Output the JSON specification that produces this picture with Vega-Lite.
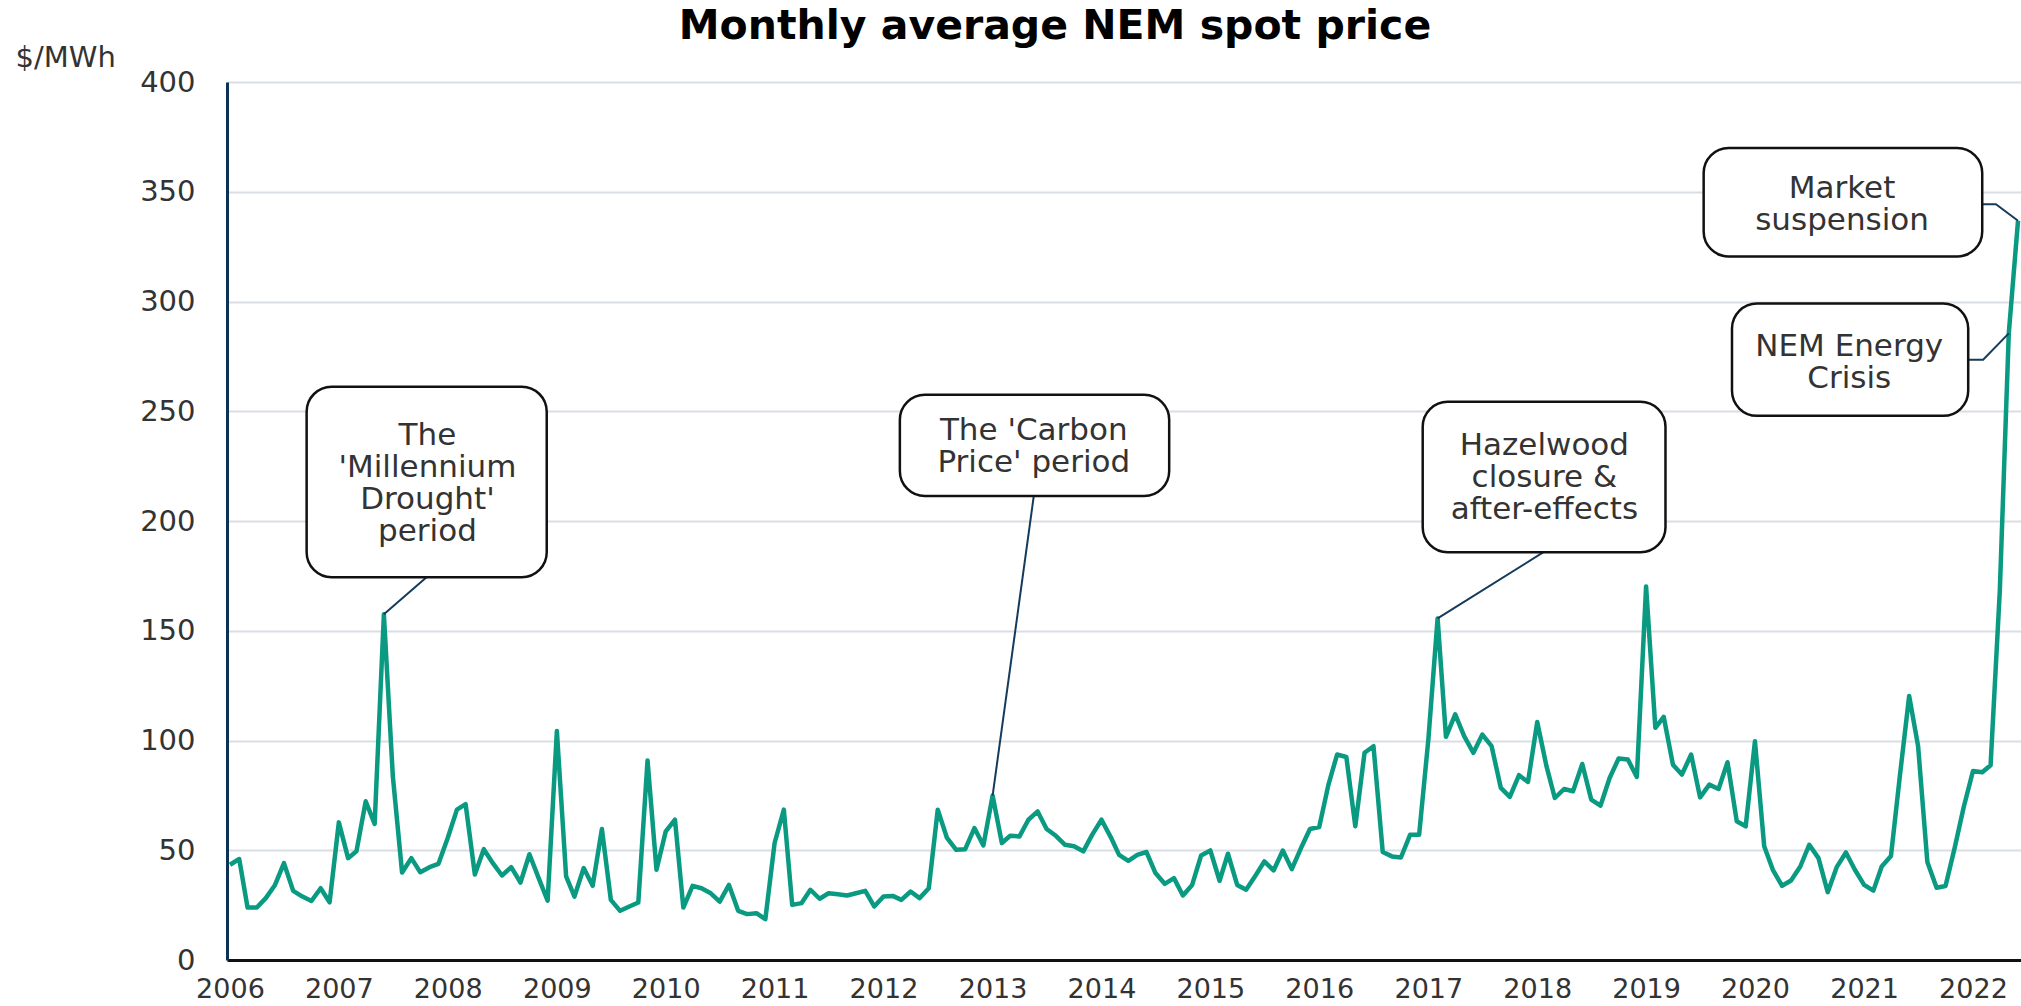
{
  "$schema": "https://vega.github.io/schema/vega-lite/v6.json",
  "autosize": {"type": "none"},
  "width": 1794,
  "height": 878,
  "padding": {"left": 227, "top": 82, "right": 0, "bottom": 46},
  "background": "white",
  "title": {
    "text": "Monthly average NEM spot price",
    "font": "DejaVu Sans",
    "fontSize": 41,
    "fontWeight": "bold",
    "color": "#000000",
    "anchor": "middle",
    "frame": "group",
    "dx": -69,
    "dy": 37,
    "baseline": "alphabetic",
    "offset": 0
  },
  "config": {
    "view": {"stroke": null},
    "axis": {
      "labelFont": "DejaVu Sans",
      "labelFontSize": 29,
      "labelColor": "#333333",
      "titleFont": "DejaVu Sans",
      "titleFontSize": 29,
      "titleFontWeight": "normal",
      "titleColor": "#333333"
    }
  },
  "datasets": {
    "prices": [
      {"month": "2006-01-01", "price": 43.4}, {"month": "2006-02-01", "price": 46}, {"month": "2006-03-01", "price": 23.9}, {"month": "2006-04-01", "price": 23.9}, {"month": "2006-05-01", "price": 28.2}, {"month": "2006-06-01", "price": 34.2}, {"month": "2006-07-01", "price": 44.1}, {"month": "2006-08-01", "price": 31.5}, {"month": "2006-09-01", "price": 28.9}, {"month": "2006-10-01", "price": 26.9}, {"month": "2006-11-01", "price": 32.7}, {"month": "2006-12-01", "price": 26.3},
      {"month": "2007-01-01", "price": 62.7}, {"month": "2007-02-01", "price": 46.4}, {"month": "2007-03-01", "price": 49.5}, {"month": "2007-04-01", "price": 72.3}, {"month": "2007-05-01", "price": 62}, {"month": "2007-06-01", "price": 157.5}, {"month": "2007-07-01", "price": 83.7}, {"month": "2007-08-01", "price": 39.9}, {"month": "2007-09-01", "price": 46.4}, {"month": "2007-10-01", "price": 40}, {"month": "2007-11-01", "price": 42.3}, {"month": "2007-12-01", "price": 43.8},
      {"month": "2008-01-01", "price": 55.6}, {"month": "2008-02-01", "price": 68.5}, {"month": "2008-03-01", "price": 71}, {"month": "2008-04-01", "price": 39}, {"month": "2008-05-01", "price": 50.5}, {"month": "2008-06-01", "price": 44}, {"month": "2008-07-01", "price": 38.5}, {"month": "2008-08-01", "price": 42.3}, {"month": "2008-09-01", "price": 35.3}, {"month": "2008-10-01", "price": 48.2}, {"month": "2008-11-01", "price": 37.3}, {"month": "2008-12-01", "price": 27},
      {"month": "2009-01-01", "price": 104.3}, {"month": "2009-02-01", "price": 38.1}, {"month": "2009-03-01", "price": 28.9}, {"month": "2009-04-01", "price": 41.9}, {"month": "2009-05-01", "price": 33.8}, {"month": "2009-06-01", "price": 59.7}, {"month": "2009-07-01", "price": 27.4}, {"month": "2009-08-01", "price": 22.4}, {"month": "2009-09-01", "price": 24.4}, {"month": "2009-10-01", "price": 26.2}, {"month": "2009-11-01", "price": 90.9}, {"month": "2009-12-01", "price": 41.1},
      {"month": "2010-01-01", "price": 58.6}, {"month": "2010-02-01", "price": 63.9}, {"month": "2010-03-01", "price": 23.9}, {"month": "2010-04-01", "price": 33.8}, {"month": "2010-05-01", "price": 32.7}, {"month": "2010-06-01", "price": 30.4}, {"month": "2010-07-01", "price": 26.6}, {"month": "2010-08-01", "price": 34.2}, {"month": "2010-09-01", "price": 22.4}, {"month": "2010-10-01", "price": 20.9}, {"month": "2010-11-01", "price": 21.3}, {"month": "2010-12-01", "price": 18.6},
      {"month": "2011-01-01", "price": 53.3}, {"month": "2011-02-01", "price": 68.5}, {"month": "2011-03-01", "price": 25.1}, {"month": "2011-04-01", "price": 25.9}, {"month": "2011-05-01", "price": 32}, {"month": "2011-06-01", "price": 27.9}, {"month": "2011-07-01", "price": 30.4}, {"month": "2011-08-01", "price": 30}, {"month": "2011-09-01", "price": 29.4}, {"month": "2011-10-01", "price": 30.4}, {"month": "2011-11-01", "price": 31.5}, {"month": "2011-12-01", "price": 24.4},
      {"month": "2012-01-01", "price": 28.9}, {"month": "2012-02-01", "price": 29.2}, {"month": "2012-03-01", "price": 27.4}, {"month": "2012-04-01", "price": 31.2}, {"month": "2012-05-01", "price": 28.2}, {"month": "2012-06-01", "price": 32.7}, {"month": "2012-07-01", "price": 68.5}, {"month": "2012-08-01", "price": 55.6}, {"month": "2012-09-01", "price": 50.2}, {"month": "2012-10-01", "price": 50.5}, {"month": "2012-11-01", "price": 60.1}, {"month": "2012-12-01", "price": 52.2},
      {"month": "2013-01-01", "price": 74.9}, {"month": "2013-02-01", "price": 53.3}, {"month": "2013-03-01", "price": 56.6}, {"month": "2013-04-01", "price": 56.3}, {"month": "2013-05-01", "price": 63.9}, {"month": "2013-06-01", "price": 67.7}, {"month": "2013-07-01", "price": 59.7}, {"month": "2013-08-01", "price": 56.6}, {"month": "2013-09-01", "price": 52.5}, {"month": "2013-10-01", "price": 51.8}, {"month": "2013-11-01", "price": 49.5}, {"month": "2013-12-01", "price": 57.1},
      {"month": "2014-01-01", "price": 63.9}, {"month": "2014-02-01", "price": 56}, {"month": "2014-03-01", "price": 47.9}, {"month": "2014-04-01", "price": 45.2}, {"month": "2014-05-01", "price": 47.9}, {"month": "2014-06-01", "price": 49.2}, {"month": "2014-07-01", "price": 39.6}, {"month": "2014-08-01", "price": 34.7}, {"month": "2014-09-01", "price": 37.3}, {"month": "2014-10-01", "price": 29.4}, {"month": "2014-11-01", "price": 34.2}, {"month": "2014-12-01", "price": 47.6},
      {"month": "2015-01-01", "price": 49.9}, {"month": "2015-02-01", "price": 36.1}, {"month": "2015-03-01", "price": 48.4}, {"month": "2015-04-01", "price": 34.2}, {"month": "2015-05-01", "price": 32}, {"month": "2015-06-01", "price": 38.4}, {"month": "2015-07-01", "price": 44.9}, {"month": "2015-08-01", "price": 40.8}, {"month": "2015-09-01", "price": 49.9}, {"month": "2015-10-01", "price": 41.4}, {"month": "2015-11-01", "price": 51}, {"month": "2015-12-01", "price": 59.7},
      {"month": "2016-01-01", "price": 60.6}, {"month": "2016-02-01", "price": 79.9}, {"month": "2016-03-01", "price": 93.6}, {"month": "2016-04-01", "price": 92.5}, {"month": "2016-05-01", "price": 60.9}, {"month": "2016-06-01", "price": 94.4}, {"month": "2016-07-01", "price": 97.4}, {"month": "2016-08-01", "price": 49.2}, {"month": "2016-09-01", "price": 47.2}, {"month": "2016-10-01", "price": 46.7}, {"month": "2016-11-01", "price": 57.1}, {"month": "2016-12-01", "price": 57.1},
      {"month": "2017-01-01", "price": 100.5}, {"month": "2017-02-01", "price": 155.6}, {"month": "2017-03-01", "price": 101.7}, {"month": "2017-04-01", "price": 111.9}, {"month": "2017-05-01", "price": 102}, {"month": "2017-06-01", "price": 94.4}, {"month": "2017-07-01", "price": 102.7}, {"month": "2017-08-01", "price": 97.4}, {"month": "2017-09-01", "price": 78.4}, {"month": "2017-10-01", "price": 74.3}, {"month": "2017-11-01", "price": 84.2}, {"month": "2017-12-01", "price": 81.1},
      {"month": "2018-01-01", "price": 108.4}, {"month": "2018-02-01", "price": 88.3}, {"month": "2018-03-01", "price": 73.8}, {"month": "2018-04-01", "price": 77.9}, {"month": "2018-05-01", "price": 76.9}, {"month": "2018-06-01", "price": 89.3}, {"month": "2018-07-01", "price": 73.1}, {"month": "2018-08-01", "price": 70.3}, {"month": "2018-09-01", "price": 83}, {"month": "2018-10-01", "price": 91.8}, {"month": "2018-11-01", "price": 91.3}, {"month": "2018-12-01", "price": 83.4},
      {"month": "2019-01-01", "price": 170.2}, {"month": "2019-02-01", "price": 105.8}, {"month": "2019-03-01", "price": 110.8}, {"month": "2019-04-01", "price": 89}, {"month": "2019-05-01", "price": 84.5}, {"month": "2019-06-01", "price": 93.6}, {"month": "2019-07-01", "price": 74.1}, {"month": "2019-08-01", "price": 79.9}, {"month": "2019-09-01", "price": 77.9}, {"month": "2019-10-01", "price": 90.1}, {"month": "2019-11-01", "price": 63.2}, {"month": "2019-12-01", "price": 60.9},
      {"month": "2020-01-01", "price": 99.7}, {"month": "2020-02-01", "price": 51.8}, {"month": "2020-03-01", "price": 41.1}, {"month": "2020-04-01", "price": 33.8}, {"month": "2020-05-01", "price": 36.2}, {"month": "2020-06-01", "price": 42.6}, {"month": "2020-07-01", "price": 52.5}, {"month": "2020-08-01", "price": 46.4}, {"month": "2020-09-01", "price": 30.9}, {"month": "2020-10-01", "price": 42.3}, {"month": "2020-11-01", "price": 49}, {"month": "2020-12-01", "price": 41.1},
      {"month": "2021-01-01", "price": 34.2}, {"month": "2021-02-01", "price": 31.6}, {"month": "2021-03-01", "price": 42.6}, {"month": "2021-04-01", "price": 47.4}, {"month": "2021-05-01", "price": 84}, {"month": "2021-06-01", "price": 120.3}, {"month": "2021-07-01", "price": 97.4}, {"month": "2021-08-01", "price": 44.7}, {"month": "2021-09-01", "price": 32.9}, {"month": "2021-10-01", "price": 33.7}, {"month": "2021-11-01", "price": 51.3}, {"month": "2021-12-01", "price": 69.7},
      {"month": "2022-01-01", "price": 86.1}, {"month": "2022-02-01", "price": 85.5}, {"month": "2022-03-01", "price": 88.7}, {"month": "2022-04-01", "price": 168.4}, {"month": "2022-05-01", "price": 285.5}, {"month": "2022-06-01", "price": 336.8}
    ],
    "connectors": [
      {"id": "m", "seq": 1, "month": "2007-06-01", "price": 157.5},
      {"id": "m", "seq": 2, "month": "2007-10-22", "price": 174.4},
      {"id": "c", "seq": 1, "month": "2013-01-01", "price": 74.9},
      {"id": "c", "seq": 2, "month": "2013-05-19", "price": 211.4},
      {"id": "h", "seq": 1, "month": "2017-02-01", "price": 155.6},
      {"id": "h", "seq": 2, "month": "2018-01-22", "price": 185.8},
      {"id": "s", "seq": 1, "month": "2022-02-01", "price": 344.3},
      {"id": "s", "seq": 2, "month": "2022-03-19", "price": 344.3},
      {"id": "s", "seq": 3, "month": "2022-06-01", "price": 336.8},
      {"id": "n", "seq": 1, "month": "2021-12-16", "price": 273.5},
      {"id": "n", "seq": 2, "month": "2022-02-04", "price": 273.5},
      {"id": "n", "seq": 3, "month": "2022-05-01", "price": 285.5}
    ],
    "notes": [
      {"label": "The\n'Millennium\nDrought'\nperiod", "start": "2006-09-15", "end": "2008-11-28", "top": 261.2, "bottom": 174.4, "mid": "2007-10-25", "level": 238.5},
      {"label": "The 'Carbon\nPrice' period", "start": "2012-02-25", "end": "2014-08-16", "top": 257.5, "bottom": 211.4, "mid": "2013-05-19", "level": 240.8},
      {"label": "Hazelwood\nclosure &\nafter-effects", "start": "2016-12-13", "end": "2019-03-07", "top": 254.3, "bottom": 185.8, "mid": "2018-01-25", "level": 234},
      {"label": "Market\nsuspension", "start": "2019-07-13", "end": "2022-02-01", "top": 369.9, "bottom": 320.5, "mid": "2020-10-19", "level": 351.3},
      {"label": "NEM Energy\nCrisis", "start": "2019-10-16", "end": "2021-12-16", "top": 299.1, "bottom": 247.9, "mid": "2020-11-12", "level": 279.2}
    ]
  },
  "layer": [
    {
      "data": {"name": "prices"},
      "mark": {"type": "line", "color": "#0a9a82", "strokeWidth": 4.5, "strokeJoin": "round"},
      "encoding": {
        "x": {
          "field": "month", "type": "temporal",
          "scale": {"type": "utc", "domain": [{"year": 2005, "month": 12, "date": 22, "utc": true}, {"year": 2022, "month": 6, "date": 11, "utc": true}]},
          "axis": {
            "title": null,
            "format": "%Y",
            "values": [
              {"year": 2006, "month": 1, "date": 1, "utc": true}, {"year": 2007, "month": 1, "date": 1, "utc": true}, {"year": 2008, "month": 1, "date": 1, "utc": true}, {"year": 2009, "month": 1, "date": 1, "utc": true}, {"year": 2010, "month": 1, "date": 1, "utc": true}, {"year": 2011, "month": 1, "date": 1, "utc": true}, {"year": 2012, "month": 1, "date": 1, "utc": true}, {"year": 2013, "month": 1, "date": 1, "utc": true}, {"year": 2014, "month": 1, "date": 1, "utc": true}, {"year": 2015, "month": 1, "date": 1, "utc": true}, {"year": 2016, "month": 1, "date": 1, "utc": true}, {"year": 2017, "month": 1, "date": 1, "utc": true}, {"year": 2018, "month": 1, "date": 1, "utc": true}, {"year": 2019, "month": 1, "date": 1, "utc": true}, {"year": 2020, "month": 1, "date": 1, "utc": true}, {"year": 2021, "month": 1, "date": 1, "utc": true}, {"year": 2022, "month": 1, "date": 1, "utc": true}
            ],
            "grid": false,
            "ticks": false,
            "tickSize": 0,
            "labelFontSize": 27,
            "labelPadding": 29,
            "labelBaseline": "middle",
            "labelFlush": false,
            "labelOverlap": false,
            "domainColor": "#111111",
            "domainWidth": 3
          }
        },
        "y": {
          "field": "price", "type": "quantitative",
          "scale": {"domain": [0, 400], "nice": false},
          "axis": {
            "title": "$/MWh",
            "titleAngle": 0,
            "titleAlign": "left",
            "titleBaseline": "middle",
            "titleX": -212,
            "titleY": -25,
            "titleFontSize": 29,
            "values": [0, 50, 100, 150, 200, 250, 300, 350, 400],
            "grid": true,
            "gridColor": "#d9dee4",
            "gridWidth": 2,
            "ticks": false,
            "tickSize": 0,
            "labelPadding": 32,
            "labelBaseline": "middle",
            "labelFlush": false,
            "domainColor": "#0e3253",
            "domainWidth": 3
          }
        }
      }
    },
    {
      "data": {"name": "connectors"},
      "mark": {"type": "line", "color": "#153b5c", "strokeWidth": 2},
      "encoding": {
        "x": {"field": "month", "type": "temporal"},
        "y": {"field": "price", "type": "quantitative"},
        "detail": {"field": "id"},
        "order": {"field": "seq"}
      }
    },
    {
      "data": {"name": "notes"},
      "mark": {"type": "rect", "fill": "white", "stroke": "#111111", "strokeWidth": 2.5, "cornerRadius": 25},
      "encoding": {
        "x": {"field": "start", "type": "temporal"},
        "x2": {"field": "end"},
        "y": {"field": "top", "type": "quantitative"},
        "y2": {"field": "bottom"}
      }
    },
    {
      "data": {"name": "notes"},
      "mark": {"type": "text", "font": "DejaVu Sans", "fontSize": 31, "color": "#333333", "lineBreak": "\n", "lineHeight": 32, "align": "center", "baseline": "middle"},
      "encoding": {
        "x": {"field": "mid", "type": "temporal"},
        "y": {"field": "level", "type": "quantitative"},
        "text": {"field": "label"}
      }
    }
  ]
}
